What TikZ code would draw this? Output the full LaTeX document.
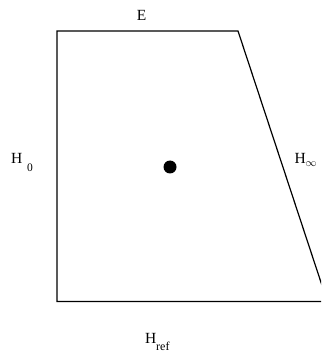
\documentclass[tikz,border=0pt]{standalone}
\usepackage{fontspec}
\setmainfont{Liberation Serif}
\begin{document}
\begin{tikzpicture}[x=1pt,y=-1pt,
  edge/.style={line width=1.2pt, line join=miter},
  lbl/.style={font=\fontsize{15.5}{18}\selectfont, inner sep=0pt, anchor=base west}]
\useasboundingbox (0,0) rectangle (321,352);
\clip (0,0) rectangle (321,352);
\coordinate (tl) at (57,31);
\coordinate (tr) at (238,31);
\coordinate (br) at (327.3,301.5);
\coordinate (bl) at (57,301.5);
\draw[edge] (br) -- (tr) -- (tl) -- (bl) -- (br);
\fill (170,167) circle (6.5);
\node[lbl, anchor=base] (E) at (141.7,20.5) {E};
\node[lbl] (H0) at (10.8,163.5) {H\hspace{5pt}\raisebox{-8pt}{\fontsize{11.5}{12}\selectfont 0}};
\node[lbl] (Hinf) at (294.3,163.3) {H\raisebox{-3.5pt}{$\scriptstyle\infty$}};
\node[lbl] (Href) at (144.8,343) {H\raisebox{-7pt}{\fontsize{12}{12}\selectfont ref}};
\end{tikzpicture}
\end{document}
